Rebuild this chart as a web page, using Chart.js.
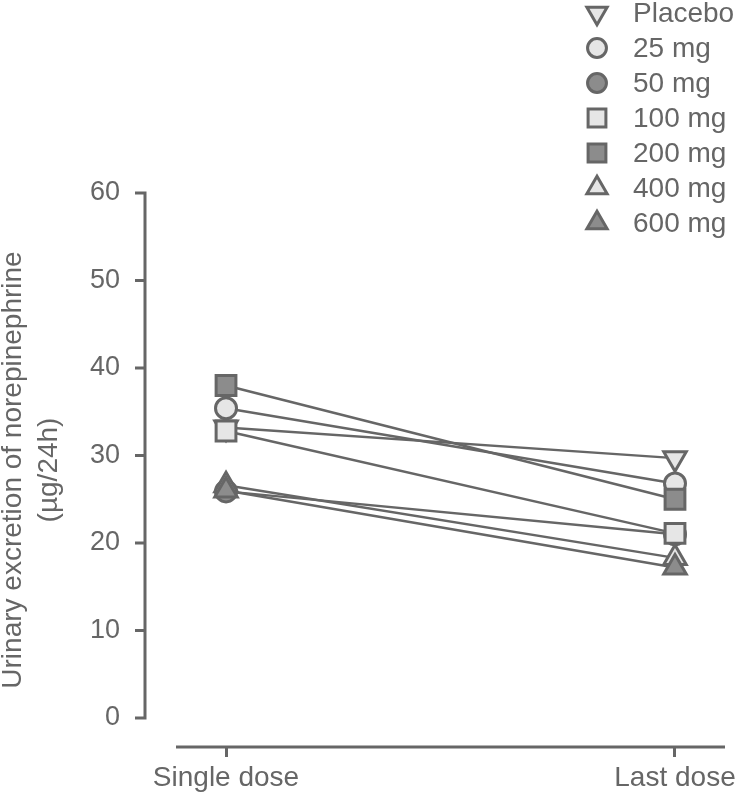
<!DOCTYPE html>
<html>
<head>
<meta charset="utf-8">
<script src="https://cdn.jsdelivr.net/npm/chart.js@4"></script>
<style>
  html, body { margin: 0; padding: 0; background: #fff; }
  #wrap { width: 736px; height: 800px; }
</style>
</head>
<body>
<div id="wrap"><canvas id="c"></canvas></div>
<script>
// ===============================
//   Data
// ===============================
const doses = ['Placebo', '25 mg', '50 mg', '100 mg', '200 mg', '400 mg', '600 mg'];
const singleDose = [33.2, 35.4, 25.9, 32.8, 38.0, 26.6, 26.0];
const lastDose   = [29.7, 26.8, 21.0, 21.1, 25.0, 18.3, 17.2];
const timepoints = ['Single dose', 'Last dose'];
const yTicks = [0, 10, 20, 30, 40, 50, 60];

// ===============================
//   Styles
// ===============================
const INK = '#666';
const LIGHT = '#e6e6e6';
const DARK = '#8c8c8c';
const FONT = '"Liberation Sans", Arial, Helvetica, sans-serif';

// style, rotation, fill, radius
const markers = [
  ['triangle', 180, LIGHT, 13],
  ['circle',   0,   LIGHT, 10.5],
  ['circle',   0,   DARK,  10.5],
  ['rect',     0,   LIGHT, 14],
  ['rect',     0,   DARK,  14],
  ['triangle', 0,   LIGHT, 13],
  ['triangle', 0,   DARK,  13]
];

const datasets = doses.map((name, i) => ({
  label: name,
  data: [{ x: 0, y: singleDose[i] }, { x: 1, y: lastDose[i] }],
  borderColor: INK,
  borderWidth: 2.5,
  pointStyle: markers[i][0],
  rotation: markers[i][1],
  pointBackgroundColor: markers[i][2],
  pointBorderColor: INK,
  pointBorderWidth: 3,
  pointRadius: markers[i][3],
  order: doses.length - i   // first dataset ends up drawn at the bottom
}));

const noPad = () => ({ left: 0, top: 0, right: 0, bottom: 0 });

// axis lines (detached, like the original) + legend
const axisAndLegend = {
  id: 'axisAndLegend',
  afterDraw(chart) {
    const ctx = chart.ctx;
    const y = chart.scales.y;
    const area = chart.chartArea;
    const x0 = 145;
    ctx.save();
    ctx.strokeStyle = INK;
    ctx.lineWidth = 3;
    ctx.beginPath();
    ctx.moveTo(x0, y.getPixelForValue(0) + 1.5);
    ctx.lineTo(x0, y.getPixelForValue(60) - 1.5);
    yTicks.forEach(v => {
      const p = y.getPixelForValue(v);
      ctx.moveTo(x0 - 10, p);
      ctx.lineTo(x0 + 1.5, p);
    });
    ctx.moveTo(area.left, area.bottom);
    ctx.lineTo(725, area.bottom);
    ctx.stroke();

    // legend
    ctx.font = '28px ' + FONT;
    ctx.textBaseline = 'middle';
    doses.forEach((name, i) => {
      const cy = 13 + i * 35;
      const m = markers[i];
      ctx.fillStyle = m[2];
      ctx.strokeStyle = INK;
      ctx.lineWidth = 3;
      Chart.helpers.drawPoint(ctx, {
        pointStyle: m[0], rotation: m[1], radius: m[3] * 0.9, borderWidth: 3
      }, 597, cy);
      ctx.fillStyle = INK;
      ctx.fillText(name, 633, cy + 1);
    });
    ctx.restore();
  }
};

new Chart(document.getElementById('c'), {
  type: 'line',
  data: { datasets },
  options: {
    responsive: true,
    maintainAspectRatio: false,
    animation: false,
    layout: { padding: { top: 193, right: 11, left: 0, bottom: 0 } },
    plugins: { legend: { display: false }, tooltip: { enabled: false } },
    scales: {
      x: {
        type: 'linear',
        min: -0.1114,
        max: 1.0980,
        border: { display: false },
        grid: { display: true, drawOnChartArea: false, drawTicks: true, tickLength: 10, color: INK, lineWidth: 3 },
        afterBuildTicks: s => { s.ticks = [{ value: 0 }, { value: 1 }]; },
        afterFit: s => { s.height = 53; s.getPadding = noPad; },
        ticks: {
          color: INK,
          padding: 4,
          maxRotation: 0,
          autoSkip: false,
          font: { family: FONT, size: 28 },
          callback: v => timepoints[v]
        }
      },
      y: {
        min: -3.314,
        max: 60,
        border: { display: false },
        grid: { display: false },
        afterBuildTicks: s => { s.ticks = yTicks.map(v => ({ value: v })); },
        afterFit: s => { s.width = 176; s.getPadding = noPad; },
        ticks: {
          color: INK,
          padding: 48,
          font: { family: FONT, size: 27 }
        },
        title: {
          display: true,
          text: ['Urinary excretion of norepinephrine', '(\u00b5g/24h)'],
          color: INK,
          padding: { top: -5, bottom: 0 },
          font: { family: FONT, size: 28, lineHeight: 1.3 }
        }
      }
    }
  },
  plugins: [axisAndLegend]
});
</script>
</body>
</html>
